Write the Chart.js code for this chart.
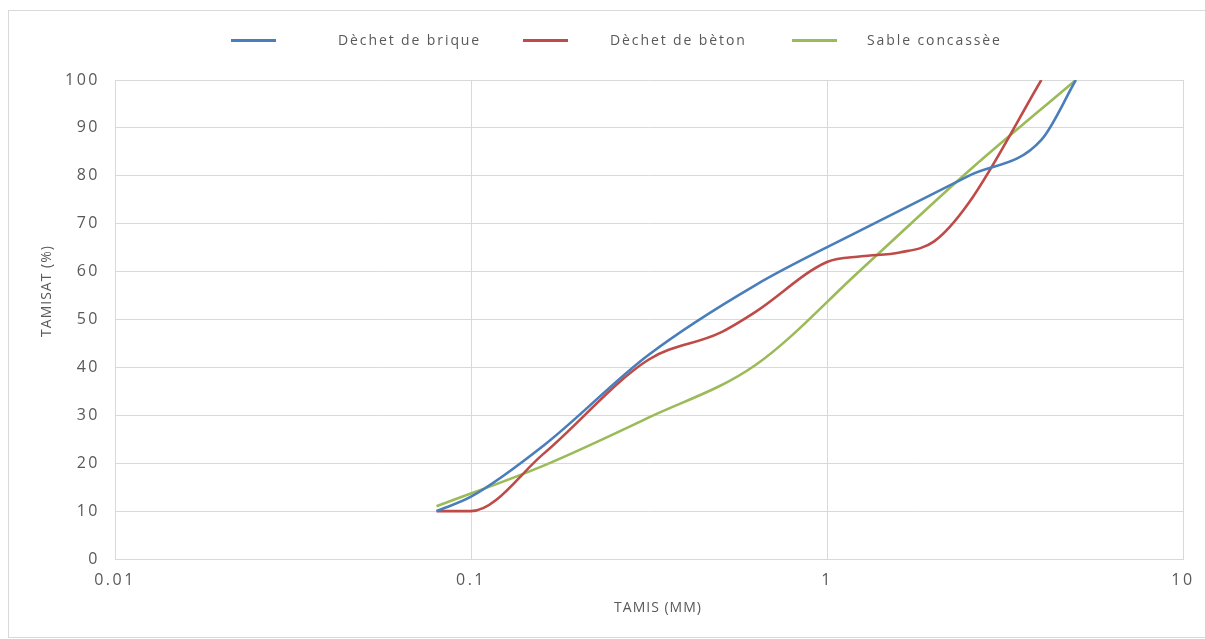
<!DOCTYPE html>
<html>
<head>
<meta charset="utf-8">
<script src="https://cdn.jsdelivr.net/npm/chart.js@4/dist/chart.umd.min.js"></script>
<style>
  body { margin: 0; background: #fff; }
  #wrap { position: relative; width: 1205px; height: 639px; overflow: hidden; }
  #frame { position: absolute; left: 8px; top: 10px; width: 1300px; height: 628px;
           border: 1px solid #d9d9d9; box-sizing: border-box; }
  #chart { position: absolute; left: 0; top: 0; }
  .lg-line { position: absolute; height: 3px; width: 45px; top: 39px; }
  .lg-text { position: absolute; top: 30px; font: 14px "Open Sans", sans-serif;
             color: #595959; letter-spacing: 1.9px; white-space: nowrap; }
</style>
</head>
<body>
<div id="wrap">
  <div id="frame"></div>
  <canvas id="chart" width="1205" height="639"></canvas>
</div>
<script>
// sieve openings (mm) and passing percentages
const briqueSieves = [0.08, 0.1, 0.16, 0.315, 0.63, 1.25, 2.5, 4, 5];
const briqueValues = [10, 13, 23.7, 42.6, 57.2, 68.7, 80, 87.5, 100];

const betonSieves = [0.08, 0.1, 0.16, 0.315, 0.5, 0.63, 1, 1.25, 1.6, 2, 2.5, 4];
const betonValues = [10, 10, 22, 41.6, 47.2, 51.6, 62, 63.2, 64, 66.3, 74.3, 100];

const sableSieves = [0.08, 0.16, 0.315, 0.63, 1.25, 2.5, 5];
const sableValues = [11, 19.5, 29.5, 40.5, 60.5, 81, 100];

const seriesNames = ["Dèchet de brique", "Dèchet de bèton", "Sable concassèe"];
const seriesColors = ["#4a7ebb", "#be4b48", "#9bbb59"];
const xTicks = [0.01, 0.1, 1, 10];
const xTitle = "TAMIS (MM)";
const yTitle = "TAMISAT (%)";

const legendLineX = [231, 523, 792];
const legendTextX = [338, 610, 867];
const wrap = document.getElementById("wrap");
seriesNames.forEach((name, i) => {
    const line = document.createElement("div");
    line.className = "lg-line";
    line.style.left = legendLineX[i] + "px";
    line.style.background = seriesColors[i];
    wrap.appendChild(line);
    const txt = document.createElement("div");
    txt.className = "lg-text";
    txt.style.left = legendTextX[i] + "px";
    txt.textContent = name;
    wrap.appendChild(txt);
});

function makeDataset(label, sieves, values, color) {
    return {
        label,
        data: sieves.map((s, i) => ({ x: s, y: values[i] })),
        borderColor: color,
        backgroundColor: color,
        borderWidth: 2.6,
        pointRadius: 0,
        showLine: true,
        cubicInterpolationMode: "monotone",
        clip: 0
    };
}

const spacing = {
    id: "spacing",
    beforeDraw(chart) { chart.ctx.letterSpacing = "2.5px"; }
};

const axisTitles = {
    id: "axisTitles",
    afterDraw(chart) {
        const ctx = chart.ctx;
        ctx.save();
        ctx.font = '14px "Open Sans"';
        ctx.letterSpacing = "1px";
        ctx.fillStyle = "#595959";
        ctx.textAlign = "center";
        ctx.textBaseline = "middle";
        ctx.fillText(xTitle, 658, 608);
        ctx.translate(47, 291);
        ctx.rotate(-Math.PI / 2);
        ctx.fillText(yTitle, 0, 0);
        ctx.restore();
    }
};

const tickFont = { family: "Open Sans", size: 16 };

new Chart(document.getElementById("chart"), {
    type: "scatter",
    data: {
        datasets: [
            makeDataset(seriesNames[0], briqueSieves, briqueValues, seriesColors[0]),
            makeDataset(seriesNames[1], betonSieves, betonValues, seriesColors[1]),
            makeDataset(seriesNames[2], sableSieves, sableValues, seriesColors[2])
        ]
    },
    options: {
        responsive: false,
        animation: false,
        layout: { padding: { top: 80, right: 22, left: 0, bottom: 0 } },
        plugins: { legend: { display: false }, tooltip: { enabled: false } },
        scales: {
            x: {
                type: "logarithmic",
                min: 0.01,
                max: 10,
                afterBuildTicks: scale => { scale.ticks = xTicks.map(v => ({ value: v })); },
                afterFit: scale => { scale.height = 80; },
                ticks: { color: "#595959", font: tickFont, padding: 12, maxRotation: 0,
                         callback: v => String(v) },
                grid: { color: "#d9d9d9", drawTicks: false },
                border: { color: "#d9d9d9" }
            },
            y: {
                min: 0,
                max: 100,
                afterFit: scale => { scale.width = 115; },
                ticks: { stepSize: 10, color: "#595959", font: tickFont, padding: 15 },
                grid: { color: "#d9d9d9", drawTicks: false },
                border: { color: "#d9d9d9" }
            }
        }
    },
    plugins: [spacing, axisTitles]
});
</script>
</body>
</html>
